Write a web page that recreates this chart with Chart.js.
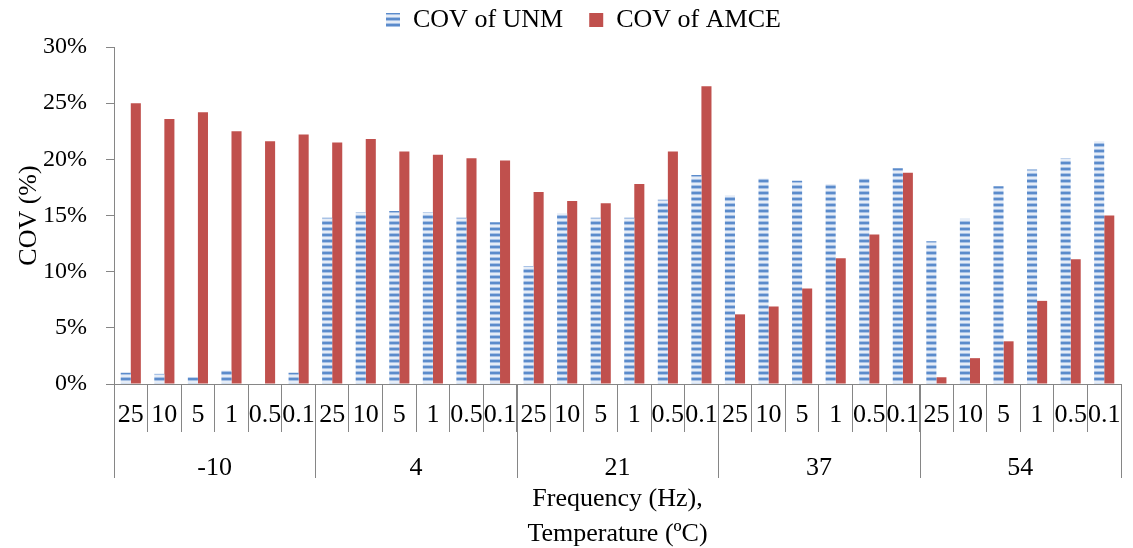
<!DOCTYPE html>
<html><head><meta charset="utf-8">
<script src="https://cdn.jsdelivr.net/npm/chart.js@4"></script>
<style>html,body{margin:0;padding:0;background:#fff}#wrap{width:1133px;height:548px;position:relative}</style>
</head><body><div id="wrap"><canvas id="c"></canvas></div>
<script>
const tempLabels = ['-10', '4', '21', '37', '54'];
const freqLabels = ['25', '10', '5', '1', '0.5', '0.1'];
const unmCov = [1.0, 0.9, 0.6, 1.2, 0.0, 1.0,
                14.8, 15.3, 15.4, 15.3, 14.8, 14.4,
                10.5, 15.2, 14.8, 14.8, 16.4, 18.6,
                16.8, 18.3, 18.1, 17.8, 18.3, 19.2,
                12.7, 14.7, 17.6, 19.1, 20.1, 21.6];
const amceCov = [25.0, 23.6, 24.2, 22.5, 21.6, 22.2,
                 21.5, 21.8, 20.7, 20.4, 20.1, 19.9,
                 17.1, 16.3, 16.1, 17.8, 20.7, 26.5,
                 6.2, 6.9, 8.5, 11.2, 13.3, 18.8,
                 0.6, 2.3, 3.8, 7.4, 11.1, 15.0];
const yMin = 0, yMax = 30, yStep = 5;

const categories = [];
tempLabels.forEach(() => freqLabels.forEach(f => categories.push(f)));

const axisColor = '#868686';
const FONT = "'Liberation Serif', 'Times New Roman', serif";
Chart.defaults.font.family = FONT;
Chart.defaults.color = '#000';

function stripePattern() {
  const p = document.createElement('canvas');
  p.width = 6; p.height = 6;
  const g = p.getContext('2d');
  const rows = ['#5b8bcb', '#5b8bcb', '#a8c2e6', '#e6edf7', '#e6edf7', '#a8c2e6'];
  rows.forEach((c, i) => { g.fillStyle = c; g.fillRect(0, i, 6, 1); });
  return g.createPattern(p, 'repeat');
}

const groupPlugin = {
  id: 'groups',
  afterLayout(chart) {
    const lg = chart.legend;
    if (lg) {
      const oldPad = lg.options.labels.padding;
      const newPad = 26;
      try { lg.options.labels.padding = newPad; } catch (e) {}
      const pad = lg.options.labels.padding;
      const lw = (lg.lineWidths && lg.lineWidths[0]) || 393;
      // first item should start at x = 386
      lg.right = 2 * 386 - pad + lw - lg.left;
      lg.top -= 4 + (pad - oldPad); lg.bottom -= 4 + (pad - oldPad);
    }
  },
  afterDraw(chart) {
    const xs = chart.scales.x, ctx = chart.ctx;
    const step = xs.getPixelForValue(1) - xs.getPixelForValue(0);
    const top = chart.chartArea.bottom;
    ctx.save();
    ctx.strokeStyle = axisColor; ctx.lineWidth = 1;
    ctx.fillStyle = '#000';
    ctx.font = '26px ' + FONT;
    ctx.textAlign = 'center'; ctx.textBaseline = 'middle';
    let start = 0;
    tempLabels.forEach((t) => {
      const n = freqLabels.length;
      const x0 = xs.getPixelForValue(start) - step / 2;
      const x1 = xs.getPixelForValue(start + n - 1) + step / 2;
      [x0, x1].forEach(xx => {
        const px = Math.round(xx) + 0.5;
        ctx.beginPath(); ctx.moveTo(px, top); ctx.lineTo(px, top + 94); ctx.stroke();
      });
      ctx.fillText(t, (x0 + x1) / 2, top + 84);
      start += n;
    });
    ctx.restore();
  }
};

new Chart(document.getElementById('c'), {
  type: 'bar',
  data: {
    labels: categories,
    datasets: [
      { label: 'COV of UNM', data: unmCov, backgroundColor: stripePattern(), borderWidth: 0,
        categoryPercentage: 0.6, barPercentage: 1.0 },
      { label: 'COV of AMCE', data: amceCov, backgroundColor: '#c0504d', borderWidth: 0,
        categoryPercentage: 0.6, barPercentage: 1.0 }
    ]
  },
  options: {
    responsive: true, maintainAspectRatio: false, animation: false,
    layout: { padding: { left: 0, right: 12, top: 1, bottom: 0 } },
    plugins: {
      legend: {
        position: 'top',
        labels: { font: { size: 26 }, color: '#000', boxWidth: 14, boxHeight: 14, padding: 10 }
      },
      tooltip: { enabled: false }
    },
    scales: {
      x: {
        offset: true,
        grid: { display: true, drawOnChartArea: false, offset: true, tickLength: 48, color: axisColor },
        border: { color: axisColor },
        ticks: { font: { size: 26 }, color: '#000', padding: -32, maxRotation: 0, autoSkip: false },
        title: { display: true, text: ['Frequency (Hz),', 'Temperature (ºC)'],
                 font: { size: 26, lineHeight: 1.35 }, color: '#000', padding: { top: 0, bottom: -4 } },
        afterFit(s) { s.height = 164; }
      },
      y: {
        min: yMin, max: yMax,
        grid: { drawOnChartArea: false, tickLength: 8, color: axisColor },
        border: { color: axisColor },
        ticks: { stepSize: yStep, font: { size: 24 }, color: '#000', padding: 19,
                 callback: v => v + '%' },
        title: { display: true, text: 'COV (%)', font: { size: 26, lineHeight: 1.2 }, color: '#000',
                 padding: { top: 14, bottom: 0 } },
        afterFit(s) { s.width = 114; }
      }
    }
  },
  plugins: [groupPlugin]
});
</script>
</body></html>
